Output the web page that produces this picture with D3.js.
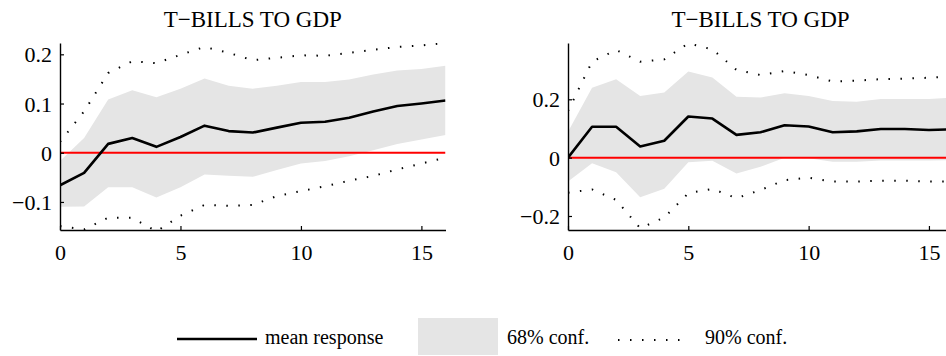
<!DOCTYPE html>
<html>
<head>
<meta charset="utf-8">
<script src="https://cdn.jsdelivr.net/npm/d3@7"></script>
<style>
  html, body { margin: 0; padding: 0; background: #fff; }
  svg { display: block; }
  svg text { font-family: "Liberation Serif", "Times New Roman", Times, "DejaVu Serif", serif !important; fill: #000; }
</style>
</head>
<body>
<svg id="chart" width="946" height="356"></svg>
<script>
// Impulse-response horizons
const horizons = d3.range(0, 17);

// Left panel: T-bills to GDP
const leftMean  = [-0.066, -0.041, 0.018, 0.030, 0.012, 0.032, 0.055, 0.044, 0.041, 0.051, 0.061, 0.063, 0.071, 0.084, 0.095, 0.100, 0.106];
const left68Hi  = [-0.017, 0.030, 0.108, 0.127, 0.113, 0.130, 0.151, 0.136, 0.130, 0.136, 0.144, 0.144, 0.149, 0.159, 0.167, 0.170, 0.177];
const left68Lo  = [-0.110, -0.109, -0.070, -0.070, -0.091, -0.070, -0.044, -0.047, -0.049, -0.035, -0.022, -0.017, -0.007, 0.005, 0.018, 0.027, 0.036];
const left90Hi  = [0.022, 0.084, 0.162, 0.186, 0.182, 0.199, 0.215, 0.203, 0.188, 0.193, 0.198, 0.197, 0.203, 0.209, 0.215, 0.218, 0.223];
const left90Lo  = [-0.149, -0.156, -0.132, -0.132, -0.160, -0.128, -0.106, -0.108, -0.106, -0.088, -0.078, -0.068, -0.057, -0.047, -0.034, -0.022, -0.010];
const leftYTicks = [-0.1, 0, 0.1, 0.2];

// Right panel: T-bills to GDP
const rightMean = [0.000, 0.106, 0.106, 0.038, 0.058, 0.141, 0.134, 0.078, 0.087, 0.111, 0.107, 0.087, 0.090, 0.098, 0.098, 0.095, 0.097];
const right68Hi = [0.089, 0.240, 0.269, 0.211, 0.223, 0.295, 0.275, 0.209, 0.206, 0.221, 0.211, 0.194, 0.192, 0.201, 0.201, 0.201, 0.206];
const right68Lo = [-0.082, -0.019, -0.050, -0.136, -0.107, -0.016, -0.011, -0.054, -0.031, 0.000, -0.002, -0.014, -0.014, -0.010, -0.010, -0.010, -0.008];
const right90Hi = [0.160, 0.329, 0.369, 0.329, 0.337, 0.392, 0.371, 0.301, 0.283, 0.297, 0.283, 0.261, 0.264, 0.269, 0.271, 0.274, 0.278];
const right90Lo = [-0.120, -0.109, -0.145, -0.242, -0.205, -0.122, -0.107, -0.139, -0.111, -0.077, -0.069, -0.082, -0.082, -0.079, -0.079, -0.082, -0.082];
const rightYTicks = [-0.2, 0, 0.2];

const xTicks = [0, 5, 10, 15];
const panelTitle = "T\u2212BILLS TO GDP";

const legendLabels = ["mean response", "68% conf.", "90% conf."];

const serif = "'Liberation Serif', 'Times New Roman', Times, 'DejaVu Serif', serif";
const svg = d3.select("#chart");
const fmt = v => (v === 0 ? "0" : d3.format(".1f")(v).replace("-", "\u2212"));

const panels = [
  { id: "l", x0: 60,  x1: 445.5, yDomain: [-0.157, 0.223], yTicks: leftYTicks,
    mean: leftMean, hi68: left68Hi, lo68: left68Lo, hi90: left90Hi, lo90: left90Lo },
  { id: "r", x0: 568, x1: 953,   yDomain: [-0.248, 0.393], yTicks: rightYTicks,
    mean: rightMean, hi68: right68Hi, lo68: right68Lo, hi90: right90Hi, lo90: right90Lo }
];

const plotTop = 43, plotBottom = 230;

panels.forEach(p => {
  const x = d3.scaleLinear().domain([0, 16]).range([p.x0, p.x1]);
  const y = d3.scaleLinear().domain(p.yDomain).range([plotBottom, plotTop]);

  const clipId = "clip-" + p.id;
  svg.append("clipPath").attr("id", clipId)
    .append("rect")
    .attr("x", x(0)).attr("y", y.range()[1])
    .attr("width", x(16) - x(0)).attr("height", y.range()[0] - y.range()[1]);

  const g = svg.append("g").attr("clip-path", `url(#${clipId})`);

  // 68% band
  const band = d3.area()
    .x((d, i) => x(horizons[i]))
    .y0((d, i) => y(p.lo68[i]))
    .y1((d, i) => y(p.hi68[i]));
  g.append("path").datum(horizons).attr("d", band).attr("fill", "#e5e5e5");

  // 90% bounds (dotted)
  const line = arr => d3.line().x((d, i) => x(horizons[i])).y((d, i) => y(arr[i]))(horizons);
  [p.hi90, p.lo90].forEach(arr => {
    g.append("path").attr("d", line(arr))
      .attr("fill", "none").attr("stroke", "#000")
      .attr("stroke-width", 2).attr("stroke-dasharray", "1.5 10.5");
  });

  // zero line
  g.append("line")
    .attr("x1", x(0)).attr("x2", x(16))
    .attr("y1", y(0)).attr("y2", y(0))
    .attr("stroke", "#ff0000").attr("stroke-width", 2);

  // mean response
  g.append("path").attr("d", line(p.mean))
    .attr("fill", "none").attr("stroke", "#000")
    .attr("stroke-width", 2.6).attr("stroke-linejoin", "round");

  // axes
  const yAxis = d3.axisLeft(y).tickValues(p.yTicks).tickFormat(fmt)
    .tickSizeInner(-4).tickSizeOuter(0).tickPadding(8);
  const xAxis = d3.axisBottom(x).tickValues(xTicks).tickFormat(d3.format("d"))
    .tickSizeInner(-4).tickSizeOuter(0).tickPadding(14);

  const ya = svg.append("g").attr("transform", `translate(${x(0)},0)`).call(yAxis);
  const xa = svg.append("g").attr("transform", `translate(0,${plotBottom})`).call(xAxis);
  [ya, xa].forEach(a => {
    a.attr("font-family", serif).attr("font-size", 22);
    a.select(".domain").attr("stroke", "#000").attr("stroke-width", 1.4);
    a.selectAll(".tick line").attr("stroke", "#000").attr("stroke-width", 1.2);
    a.selectAll(".tick text").attr("fill", "#000");
  });
  ya.selectAll(".tick text").attr("dy", "0.34em");
  xa.selectAll(".tick text").attr("dy", "0.71em");

  // title
  svg.append("text")
    .attr("x", (p.x0 + p.x1) / 2).attr("y", 27)
    .attr("text-anchor", "middle").attr("font-size", 23)
    .attr("font-family", serif)
    .text(panelTitle);
});

// legend
const lg = svg.append("g").attr("font-family", serif).attr("font-size", 20);
lg.append("line").attr("x1", 177).attr("x2", 257).attr("y1", 339).attr("y2", 339)
  .attr("stroke", "#000").attr("stroke-width", 2.6);
lg.append("text").attr("x", 265).attr("y", 344).text(legendLabels[0]);
lg.append("rect").attr("x", 418).attr("y", 318).attr("width", 80).attr("height", 37)
  .attr("fill", "#e5e5e5");
lg.append("text").attr("x", 507).attr("y", 344).text(legendLabels[1]);
lg.append("line").attr("x1", 618).attr("x2", 690).attr("y1", 340).attr("y2", 340)
  .attr("stroke", "#000").attr("stroke-width", 2).attr("stroke-dasharray", "1.5 10.5");
lg.append("text").attr("x", 705).attr("y", 344).text(legendLabels[2]);
</script>
</body>
</html>
